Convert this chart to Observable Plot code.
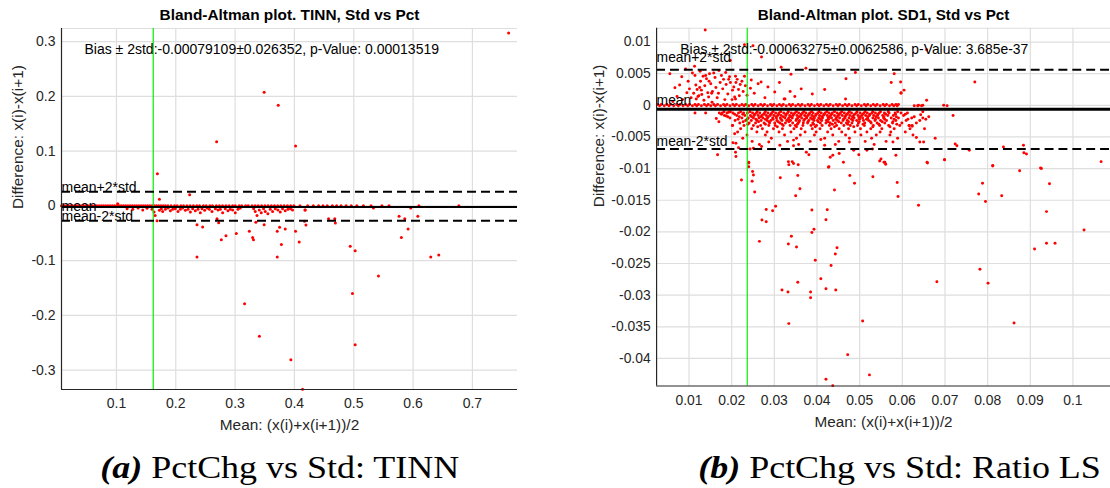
<!DOCTYPE html>
<html><head><meta charset="utf-8">
<script src="https://cdn.jsdelivr.net/npm/d3@7"></script>
<script src="https://cdn.jsdelivr.net/npm/@observablehq/plot@0.6"></script>
<style>
html,body{margin:0;padding:0;background:#fff;overflow:hidden;width:1110px;height:488px}
#root{position:relative;width:1110px;height:488px;overflow:hidden}
.panel{position:absolute;top:0}
.cap{position:absolute;top:450px;line-height:36px;text-align:center;font-family:"Liberation Serif","Times New Roman",serif;font-size:31px;color:#000;white-space:nowrap}
.cap span{display:inline-block;transform:scaleX(1.16);transform-origin:50% 50%}
</style></head>
<body><div id="root">
<div id="p1" class="panel" style="left:0"></div>
<div id="p2" class="panel" style="left:555px"></div>
<div class="cap" style="left:0;width:560px"><span><b><i>(a)</i></b> PctChg vs Std: TINN</span></div>
<div class="cap" style="left:620px;width:560px"><span><b><i>(b)</i></b> PctChg vs Std: Ratio LS</span></div>
</div>
<script>
// ---------- Panel (a): TINN ----------
const tinnTitle = "Bland-Altman plot. TINN, Std vs Pct";
const tinnStatText = "Bias \u00b1 2std:-0.00079109\u00b10.026352, p-Value: 0.00013519";
const tinnBias = -0.00079109;
const tinnTwoStd = 0.026352;
const tinnCut = 0.162;
const tinnXDomain = [0.0074, 0.776];
const tinnYDomain = [-0.3355, 0.324];
const tinnXTicks = [0.1, 0.2, 0.3, 0.4, 0.5, 0.6, 0.7];
const tinnYTicks = [-0.3, -0.2, -0.1, 0, 0.1, 0.2, 0.3];
// samples with zero difference
const tinnZeroMeans = [0.0074,0.011,0.0148,0.0185,0.0221,0.026,0.0297,0.0335,0.037,0.0408,0.0446,0.0483,0.052,0.0557,0.0594,0.0632,0.067,0.0707,0.0745,0.0781,0.0819,0.0856,0.0893,0.093,0.0968,0.1006,0.1043,0.108,0.1117,0.1154,0.1192,0.1229,0.1266,0.1304,0.1341,0.1378,0.1415,0.1453,0.149,0.1527,0.1565,0.1602,0.1638,0.1676,0.1713,0.175,0.1787,0.1825,0.1868,0.1921,0.1979,0.2024,0.2085,0.2131,0.2188,0.2242,0.2297,0.2353,0.2401,0.2465,0.2512,0.2574,0.2619,0.2683,0.2736,0.2788,0.2845,0.2899,0.2957,0.3003,0.3068,0.3112,0.3177,0.3221,0.3286,0.3338,0.3389,0.3447,0.3502,0.3556,0.3611,0.3664,0.3718,0.3771,0.3827,0.3882,0.3936,0.3991,0.4093,0.4224,0.4318,0.4407,0.4482,0.4553,0.4639,0.4711,0.4786,0.4871,0.4957,0.5052,0.5163,0.5291,0.5475,0.5595,0.6098,0.6771];
// other samples [mean, difference]
const tinnPoints = [[0.118,-0.0052],[0.1275,-0.0064],[0.1365,-0.004],[0.1443,-0.0076],[0.1516,-0.0045],[0.16,-0.0064],[0.1634,-0.0113],[0.1652,-0.0174],[0.1724,-0.0082],[0.1758,-0.0052],[0.178,-0.0101],[0.1825,-0.0064],[0.187,-0.004],[0.1909,-0.0088],[0.1948,-0.0064],[0.1993,-0.0052],[0.2038,-0.0101],[0.2077,-0.0064],[0.2117,-0.004],[0.2162,-0.0082],[0.2207,-0.0064],[0.2246,-0.0113],[0.2285,-0.0052],[0.233,-0.0088],[0.2375,-0.0064],[0.2414,-0.0125],[0.2443,-0.0052],[0.2487,-0.0082],[0.2527,-0.004],[0.2566,-0.0064],[0.2611,-0.0101],[0.2667,-0.0052],[0.2712,-0.0076],[0.2751,-0.0064],[0.279,-0.0125],[0.2835,-0.0052],[0.288,-0.0088],[0.2919,-0.0064],[0.2958,-0.0076],[0.3003,-0.0125],[0.3048,-0.0064],[0.3088,-0.004],[0.3313,-0.0052],[0.334,-0.0101],[0.3369,-0.0174],[0.3407,-0.0076],[0.3441,-0.0125],[0.348,-0.0052],[0.3508,-0.0101],[0.3553,-0.0143],[0.3593,-0.0064],[0.3632,-0.0101],[0.3677,-0.0052],[0.3722,-0.0076],[0.3761,-0.0113],[0.38,-0.0052],[0.3845,-0.0088],[0.389,-0.0064],[0.3934,-0.0052],[0.3968,-0.0076],[0.4182,-0.0076],
[0.1022,0.004],[0.2234,0.0204],[0.1724,0.0119],[0.1685,-0.027],[0.2358,-0.0936],[0.2358,-0.0344],[0.2453,-0.0387],[0.2768,-0.0619],[0.2846,-0.0545],[0.302,-0.0503],[0.316,-0.179],[0.324,-0.0466],[0.3295,-0.058],[0.331,-0.0619],[0.335,-0.03],[0.341,-0.238],[0.349,-0.0344],[0.371,-0.0936],[0.371,-0.0466],[0.375,-0.0393],[0.378,-0.0704],[0.3845,-0.0424],[0.394,-0.281],[0.4019,-0.0466],[0.408,-0.066],[0.4137,-0.335],[0.417,-0.028],[0.4194,-0.0351],[0.4177,-0.0077],[0.4575,-0.0235],[0.468,-0.0235],[0.469,-0.0314],[0.494,-0.074],[0.5024,-0.082],[0.4978,-0.16],[0.5024,-0.2538],[0.5416,-0.128],[0.5332,-0.004],[0.5764,-0.0192],[0.5803,-0.058],[0.586,-0.0235],[0.5916,-0.0424],[0.5961,-0.004],[0.608,-0.0192],[0.6298,-0.0936],[0.6433,-0.09],[0.169,0.0588],[0.2689,0.1173],[0.349,0.2075],[0.3727,0.1837],[0.4019,0.1094],[0.761,0.316],[0.2695,-0.0235],[0.2723,-0.031]];

// ---------- Panel (b): SD1 ----------
const sd1Title = "Bland-Altman plot. SD1, Std vs Pct";
const sd1StatText = "Bias \u00b1 2std:-0.00063275\u00b10.0062586, p-Value: 3.685e-37";
const sd1Bias = -0.00063275;
const sd1TwoStd = 0.0062586;
const sd1Cut = 0.02365;
const sd1XDomain = [0.0024, 0.1088];
const sd1YDomain = [-0.04436, 0.01218];
const sd1XTicks = [0.01, 0.02, 0.03, 0.04, 0.05, 0.06, 0.07, 0.08, 0.09, 0.1];
const sd1YTicks = [-0.04, -0.035, -0.03, -0.025, -0.02, -0.015, -0.01, -0.005, 0, 0.005, 0.01];
// near-zero differences (two rows)
const sd1ZeroUpper = [0.0026,0.0035,0.0048,0.0057,0.0071,0.0079,0.0092,0.0101,0.0114,0.0122,0.0136,0.0145,0.0158,0.0167,0.0181,0.0189,0.0203,0.0211,0.0224,0.0233,0.0247,0.0255,0.0268,0.0277,0.0291,0.0299,0.0312,0.0321,0.0335,0.0343,0.0356,0.0365,0.0379,0.0387,0.0401,0.0409,0.0422,0.0431,0.0445,0.0453,0.0466,0.0475,0.0489,0.0497,0.0511,0.0519,0.0532,0.0541,0.0555,0.0563,0.0576,0.0585,0.0591];
const sd1ZeroLower = [0.0031,0.0042,0.0053,0.0064,0.0075,0.0086,0.0097,0.0108,0.0118,0.0129,0.0141,0.0151,0.0162,0.0174,0.0185,0.0196,0.0207,0.0218,0.0229,0.024,0.0251,0.0262,0.0273,0.0284,0.0295,0.0306,0.0317,0.0328,0.0339,0.035,0.0361,0.0372,0.0383,0.0394,0.0405,0.0416,0.0427,0.0438,0.0449,0.046,0.0471,0.0482,0.0493,0.0504,0.0515,0.0526,0.0537,0.0548,0.0559,0.057,0.058,0.0588,0.0628,0.0636,0.0645,0.0705];
// dense cloud below zero: difference level, means at that level
const sd1CloudDiffs = [-0.001, -0.0012, -0.0014, -0.0016, -0.0018, -0.002, -0.0022, -0.0024, -0.0026, -0.0028, -0.003, -0.0032, -0.0034, -0.0037, -0.0042, -0.0047, -0.0052, -0.0057, -0.0062];
const sd1CloudMeans = [
 [0.0182,0.0197,0.0221,0.0243,0.026,0.0279,0.0297,0.0315,0.0333,0.0352,0.0369,0.0387,0.0405,0.0423,0.0441,0.0458,0.0476,0.0494,0.0513,0.0531,0.0549,0.0567,0.0589],
 [0.0171,0.0189,0.0203,0.0216,0.0228,0.0237,0.0249,0.0258,0.0266,0.0277,0.0285,0.0294,0.0303,0.0311,0.0322,0.0331,0.034,0.0348,0.0357,0.0366,0.0374,0.0383,0.0391,0.0402,0.041,0.0419,0.0428,0.0436,0.0447,0.0455,0.0464,0.0473,0.0481,0.0492,0.0501,0.051,0.0518,0.0529,0.0537,0.0546,0.0558,0.0569,0.0583,0.0597,0.0612],
 [0.0176,0.0207,0.0226,0.0254,0.0275,0.0292,0.031,0.0327,0.0345,0.0363,0.0381,0.0398,0.0417,0.0434,0.0452,0.047,0.0488,0.0507,0.0524,0.0543,0.0561,0.0584,0.0607],
 [0.0183,0.0212,0.0231,0.0244,0.0253,0.0262,0.0271,0.0281,0.029,0.0299,0.0308,0.0316,0.0327,0.0336,0.0344,0.0353,0.0362,0.0371,0.0379,0.0388,0.0397,0.0406,0.0415,0.0424,0.0432,0.0441,0.045,0.0459,0.0468,0.0477,0.0486,0.0496,0.0505,0.0514,0.0523,0.0533,0.0542,0.0554,0.0566,0.0579,0.0603],
 [0.0191,0.0218,0.0247,0.0268,0.0286,0.0304,0.0321,0.0339,0.0358,0.0375,0.0392,0.0411,0.0429,0.0447,0.0465,0.0483,0.0501,0.0519,0.0538,0.0557,0.0586,0.0628],
 [0.0196,0.0224,0.0239,0.0251,0.0264,0.0273,0.0284,0.0296,0.0305,0.0314,0.0325,0.0334,0.0342,0.0355,0.0364,0.0376,0.0385,0.0394,0.0404,0.0413,0.0426,0.0434,0.0445,0.0453,0.0466,0.0475,0.0487,0.0498,0.0507,0.0519,0.0531,0.0544,0.0556,0.0574,0.0591,0.0622,0.0648],
 [0.0215,0.0236,0.0257,0.0279,0.0297,0.0316,0.0333,0.0352,0.0371,0.0389,0.0408,0.0427,0.0444,0.0462,0.0481,0.05,0.0516,0.0537,0.0559,0.0581,0.0613],
 [0.0208,0.0233,0.0246,0.0259,0.0269,0.0283,0.0292,0.0306,0.0318,0.0329,0.0338,0.0351,0.0359,0.0369,0.0381,0.0393,0.0401,0.0411,0.0422,0.0438,0.0448,0.0461,0.0471,0.0484,0.0493,0.0509,0.0521,0.0536,0.0549,0.0563,0.0585,0.0609,0.0641],
 [0.0227,0.0263,0.0287,0.0309,0.0334,0.0358,0.0379,0.0403,0.0426,0.0451,0.0474,0.0499,0.0525,0.0553,0.0578],
 [0.0219,0.0241,0.0256,0.0276,0.0289,0.0301,0.0313,0.0326,0.0343,0.0356,0.0368,0.0378,0.039,0.0408,0.0421,0.0431,0.0443,0.0457,0.0469,0.0482,0.0497,0.0512,0.0527,0.0541,0.0559,0.0577,0.0599,0.0633],
 [0.0238,0.0279,0.0318,0.0354,0.0392,0.0436,0.0472,0.0508,0.0545,0.0587],
 [0.0202,0.0229,0.0251,0.0268,0.0287,0.0302,0.0321,0.0337,0.0349,0.0367,0.0386,0.0399,0.0412,0.0429,0.0446,0.0463,0.0478,0.0495,0.0511,0.0532,0.0547,0.0568,0.0594,0.0616,0.0623],
 [0.0261,0.0307,0.0352,0.0396,0.0441,0.0486,0.0531,0.0571],
 [0.0221,0.0247,0.0272,0.0298,0.0319,0.0346,0.0363,0.0389,0.0407,0.0433,0.0452,0.0474,0.0502,0.0526,0.0552,0.0581,0.0618,0.0652],
 [0.0214,0.0259,0.0283,0.0311,0.0339,0.0372,0.0398,0.0425,0.0458,0.0489,0.0517,0.0548,0.0573,0.0607],
 [0.0236,0.0279,0.0324,0.0361,0.0394,0.0437,0.0467,0.0503,0.0539,0.0571,0.0625],
 [0.0226,0.0293,0.0352,0.0418,0.0476,0.0528,0.0589],
 [0.0248,0.0331,0.0384,0.0451,0.0513,0.0562],
 [0.0265,0.0357,0.0443,0.0534]
];
// scattered samples [mean, difference]
const sd1Points = [[0.0138,0.01191],[0.0055,0.005],[0.0092,0.00575],[0.0067,0.00277],[0.0113,0.00617],[0.0197,0.0071],[0.023,0.00956],[0.025,0.0094],[0.027,0.00763],[0.0316,0.006],[0.0374,0.00585],[0.049,0.0052],[0.0581,0.005],[0.0657,0.00878],[0.077,0.0037],[0.0468,0.0042],[0.0574,0.0036],[0.0596,0.0037],[0.0604,0.0024],[0.0597,0.0019],[0.0657,0.0008],[0.0697,0.0],[0.0719,-0.0016],[0.0638,0.0],[0.0648,0.0],[0.0418,0.0025],[0.0363,0.0026],[0.0337,0.0022],[0.0339,0.0049],[0.0323,0.001],[0.0467,0.001],[0.0269,0.0037],[0.0246,0.004],[0.023,0.0046],[0.0236,0.0016],
[0.0114,0.0047],[0.0117,0.001],[0.0119,0.0025],[0.0123,0.0015],[0.0127,0.0038],[0.013,0.0017],[0.0133,0.0046],[0.0135,0.0008],[0.0139,0.0047],[0.0147,0.0038],[0.0148,0.005],[0.0154,0.0005],[0.0158,0.0051],[0.0166,0.0012],[0.017,0.0055],[0.0176,0.0047],[0.0181,0.0041],[0.0184,0.0009],[0.0187,0.0033],[0.0193,0.0041],[0.0197,0.0036],[0.0201,0.0009],[0.0202,0.0024],[0.0209,0.0046],[0.021,0.0036],[0.0216,0.0025],[0.022,0.0033],[0.0209,0.001],[0.0155,0.0022],[0.0125,0.0028],[0.0105,0.0012],[0.0095,0.002],[0.0085,0.0009],[0.0072,0.0014],[0.0062,0.0006],[0.0121,0.0014],[0.0144,0.002],[0.0153,0.0019],[0.0207,0.0013],[0.0325,0.001],[0.0597,0.002],
[0.0078,0.0032],[0.0083,0.0045],[0.0098,0.0038],[0.0101,0.0026],[0.0108,0.0051],[0.0111,0.0019],[0.0116,0.0032],[0.0126,0.0054],[0.0129,0.0024],[0.0137,0.0031],[0.0141,0.0042],[0.0146,0.0013],[0.0151,0.0034],[0.0161,0.0044],[0.0163,0.0028],[0.0169,0.0019],[0.0173,0.0036],[0.0179,0.0026],[0.0186,0.0052],[0.0191,0.0018],[0.0195,0.0045],[0.0205,0.0029],[0.0213,0.0041],[0.0218,0.0015],[0.0224,0.0038],[0.0227,0.0022],[0.0232,0.0031],[0.0244,0.0027],[0.0253,0.0019],[0.0262,0.0034],[0.0278,0.0012],[0.0285,0.0029],[0.0301,0.0021],[0.0312,0.0036],[0.0348,0.0014],[0.0389,0.0018],
[0.0114,-0.0012],[0.0139,-0.0012],[0.0164,-0.0021],[0.017,-0.0026],[0.0178,-0.0012],[0.0187,-0.0017],[0.0193,-0.0011],[0.0202,-0.0032],
[0.0167,-0.0078],[0.0207,-0.0045],[0.0203,-0.0059],[0.021,-0.006],[0.0216,-0.0067],[0.0209,-0.0074],[0.021,-0.0081],[0.0243,-0.0069],[0.024,-0.009],[0.024,-0.0097],[0.0251,-0.0068],[0.027,-0.0065],[0.0287,-0.0058],[0.0313,-0.0063],[0.0345,-0.0055],[0.0345,-0.0064],[0.0333,-0.0089],[0.0345,-0.0092],[0.0375,-0.0074],[0.0381,-0.0078],[0.0409,-0.0054],[0.0418,-0.0063],[0.0428,-0.0097],[0.0431,-0.0082],[0.0437,-0.0079],[0.0452,-0.0076],[0.0462,-0.009],[0.0476,-0.0058],[0.0486,-0.0071],[0.0498,-0.0078],[0.0517,-0.0071],[0.053,-0.0069],[0.055,-0.0085],[0.0559,-0.009],[0.0578,-0.0058],[0.0585,-0.0079],[0.0616,-0.0032],[0.0623,-0.0033],[0.0633,-0.0051],[0.0641,-0.0058],[0.065,-0.0058],[0.0658,-0.009],[0.0643,-0.0015],[0.0648,-0.001],[0.0655,-0.0022],[0.0662,-0.0018],[0.0677,-0.0052],[0.0699,-0.0086],[0.0724,-0.0061],[0.0728,-0.0064],[0.0757,-0.0071],[0.0812,-0.0095],[0.0837,-0.0066],[0.0884,-0.0063],[0.0885,-0.0075],[0.0891,-0.0077],[0.0926,-0.01],[0.1066,-0.0089],
[0.024,-0.0091],[0.0223,-0.0118],[0.0249,-0.01045],[0.0251,-0.011],[0.0248,-0.012],[0.0254,-0.0137],[0.0281,-0.01646],[0.0296,-0.01667],[0.0303,-0.01594],[0.0271,-0.01813],[0.0281,-0.0184],[0.0265,-0.0215],[0.0314,-0.01144],[0.0334,-0.0094],[0.0342,-0.0089],[0.0356,-0.0094],[0.0355,-0.0111],[0.036,-0.0132],[0.035,-0.0143],[0.0388,-0.01656],[0.0424,-0.0165],[0.0421,-0.0181],[0.0393,-0.0196],[0.0388,-0.0201],[0.034,-0.0207],[0.0333,-0.0219],[0.0352,-0.0224],[0.0447,-0.0225],[0.0443,-0.0235],[0.0396,-0.0245],[0.0433,-0.0253],[0.0427,-0.0098],[0.0441,-0.0134],[0.0477,-0.0111],[0.0488,-0.0123],[0.0531,-0.0113],[0.0547,-0.0088],[0.0557,-0.009],[0.0561,-0.0093],[0.0588,-0.0122],[0.059,-0.0144],[0.0638,-0.0158],[0.0659,-0.0091],[0.0699,-0.0086],[0.0812,-0.0096],[0.0788,-0.0123],[0.0779,-0.014],[0.0795,-0.0152],[0.0833,-0.0143],[0.0875,-0.01034],[0.0924,-0.0099],[0.0945,-0.0124],[0.0938,-0.0168],[0.1026,-0.0197],[0.091,-0.0227],[0.0938,-0.0218],[0.0958,-0.0218],
[0.0409,-0.0274],[0.0355,-0.02795],[0.0318,-0.0292],[0.0332,-0.0295],[0.0385,-0.0295],[0.0385,-0.0304],[0.0421,-0.029],[0.0444,-0.0292],[0.0334,-0.0345],[0.0507,-0.0341],[0.0472,-0.0394],[0.0523,-0.0426],[0.0421,-0.0433],[0.0437,-0.0443],[0.0681,-0.0279],[0.0782,-0.0259],[0.0801,-0.0281],[0.0862,-0.0344]];

const fmt = d => String(d);
const AX = "#262626";
const GRID = "#dedede";
const FONT = "'Liberation Sans', Arial, Helvetica, sans-serif";

function panel(cfg) {
  const [x0, x1] = cfg.xDomain, [y0, y1] = cfg.yDomain;
  const lines = [
    {v: cfg.bias + cfg.twoStd, label: "mean+2*std", dy: cfg.dyUp},
    {v: cfg.bias, label: "mean", dy: cfg.dyMean},
    {v: cfg.bias - cfg.twoStd, label: "mean-2*std", dy: cfg.dyLow}
  ];
  return Plot.plot({
    width: cfg.width, height: 440,
    marginLeft: cfg.ml, marginRight: cfg.mr, marginTop: 28, marginBottom: 51,
    style: {fontFamily: FONT, fontSize: "14px", color: AX, background: "transparent", overflow: "visible"},
    x: {domain: cfg.xDomain},
    y: {domain: cfg.yDomain},
    marks: [
      Plot.ruleX(cfg.xTicks, {stroke: GRID, strokeWidth: 1.2}),
      Plot.ruleY(cfg.yTicks, {stroke: GRID, strokeWidth: 1.2}),
      Plot.ruleY([y1], {stroke: GRID, strokeWidth: 1.2}),
      Plot.dot(cfg.points, {x: d => d[0], y: d => d[1], r: 1.5, fill: "#ff0000"}),
      Plot.ruleX([cfg.cut], {stroke: "#00ee00", strokeWidth: 1.2}),
      Plot.ruleY([lines[0].v, lines[2].v], {stroke: "#000", strokeWidth: 2, strokeDasharray: "9,5"}),
      Plot.ruleY([lines[1].v], {stroke: "#000", strokeWidth: cfg.meanWidth, dy: cfg.meanDy}),
      Plot.ruleX([x0], {stroke: AX, strokeWidth: 1.2}),
      Plot.ruleY([y0], {stroke: AX, strokeWidth: 1.2}),
      Plot.axisX({ticks: cfg.xTicks, tickFormat: fmt, tickSize: 0, tickPadding: 9, label: null, fill: AX, fontSize: 14}),
      Plot.axisY({ticks: cfg.yTicks, tickFormat: fmt, tickSize: 0, tickPadding: 6, label: null, fill: AX, fontSize: 14}),
      ...lines.map(l => Plot.text([l], {x: x0, y: d => d.v, text: d => d.label, textAnchor: "start", lineAnchor: "middle", dy: l.dy, fill: "#000", fontSize: 14})),
      Plot.text([cfg.stat], {text: d => d, frameAnchor: "top-left", dx: cfg.statDx, dy: 21, textAnchor: "start", lineAnchor: "middle", fill: "#000", fontSize: 14}),
      Plot.text([cfg.title], {text: d => d, frameAnchor: "top", dy: -13, lineAnchor: "middle", fill: "#000", fontSize: 15.4, fontWeight: "bold"}),
      Plot.text(["Mean: (x(i)+x(i+1))/2"], {text: d => d, frameAnchor: "bottom", dy: 36, lineAnchor: "middle", fill: AX, fontSize: 15.4}),
      Plot.text(["Difference: x(i)-x(i+1)"], {text: d => d, frameAnchor: "left", dx: cfg.yLabelDx, rotate: -90, lineAnchor: "middle", fill: AX, fontSize: 15.4})
    ]
  });
}

const tinnAll = tinnZeroMeans.map(m => [m, 0]).concat(tinnPoints);
const sd1All = sd1ZeroUpper.map(m => [m, 0.00012])
  .concat(sd1ZeroLower.map(m => [m, -0.00008]))
  .concat(sd1CloudDiffs.flatMap((dv, i) => sd1CloudMeans[i].map(m => [m, dv])))
  .concat(sd1Points);

document.getElementById("p1").appendChild(panel({
  width: 555, ml: 61, mr: 38, xDomain: tinnXDomain, yDomain: tinnYDomain,
  xTicks: tinnXTicks, yTicks: tinnYTicks, points: tinnAll, cut: tinnCut,
  bias: tinnBias, twoStd: tinnTwoStd, meanWidth: 2, meanDy: 0.6,
  dyUp: -4.6, dyMean: 0.3, dyLow: -3.8, stat: tinnStatText, statDx: 23,
  title: tinnTitle, yLabelDx: -43
}));
document.getElementById("p2").appendChild(panel({
  width: 560, ml: 102, mr: 0, xDomain: sd1XDomain, yDomain: sd1YDomain,
  xTicks: sd1XTicks, yTicks: sd1YTicks, points: sd1All, cut: sd1Cut,
  bias: sd1Bias, twoStd: sd1TwoStd, meanWidth: 3, meanDy: 0,
  dyUp: -11.9, dyMean: -9, dyLow: -7.8, stat: sd1StatText, statDx: 24,
  title: sd1Title, yLabelDx: -58
}));
</script>
</body></html>
